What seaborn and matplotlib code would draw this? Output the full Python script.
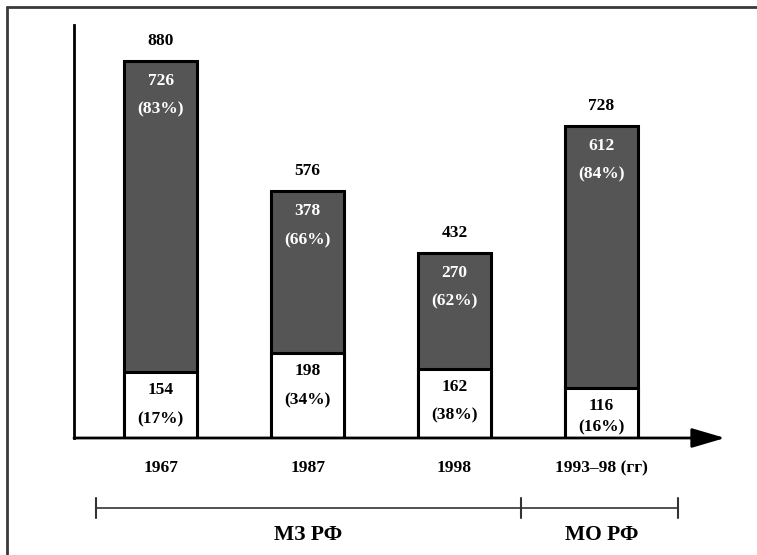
import numpy as np
import matplotlib
matplotlib.use("Agg")
import matplotlib.pyplot as plt
import matplotlib.transforms as mtransforms
from matplotlib.lines import Line2D
import seaborn as sns
import pandas as pd

# data
years = ["1967", "1987", "1998", "1993–98 (гг)"]
totals = [880, 576, 432, 728]
upper = [726, 378, 270, 612]
upper_pct = [83, 66, 62, 84]
lower = [154, 198, 162, 116]
lower_pct = [17, 34, 38, 16]
groups = ["МЗ РФ", "МО РФ"]
group_span = [(0, 2), (3, 3)]  # bar index range of each group

sns.set_theme(style="white")
plt.rcParams["font.family"] = ["Liberation Serif", "DejaVu Serif"]
plt.rcParams["font.weight"] = "bold"

df = pd.DataFrame({"year": years, "total": totals, "lower": lower})

fig = plt.figure(figsize=(7.57, 5.55), dpi=100)
ax = fig.add_axes([74 / 757, 1 - 438 / 555, (725 - 74) / 757, (438 - 25) / 555])

dark = "#555555"
sns.barplot(data=df, x="year", y="total", color=dark, edgecolor="black",
            linewidth=2.2, width=0.5, saturation=1, ax=ax)
sns.barplot(data=df, x="year", y="lower", color="white", edgecolor="black",
            linewidth=2.2, width=0.5, saturation=1, ax=ax)

ax.set_xlim(-0.59, 3.84)
ax.set_ylim(0, 963)
ax.set_xlabel("")
ax.set_ylabel("")
ax.set_yticks([])
ax.tick_params(axis="x", length=0, pad=16, labelsize=12.5, labelcolor="black")
for lab in ax.get_xticklabels():
    lab.set_fontweight("bold")
for s in ["top", "right", "bottom"]:
    ax.spines[s].set_visible(False)
ax.spines["left"].set_color("black")
ax.spines["left"].set_linewidth(2)

# x axis with arrow
ax.annotate("", xy=(1, 0), xytext=(0, 0), xycoords="axes fraction",
            arrowprops=dict(arrowstyle="-|>,head_length=1.7,head_width=0.5",
                            color="black", lw=2, shrinkA=0, shrinkB=0),
            annotation_clip=False)

fs = 12.5
px = 0.72  # points per pixel at 100 dpi
for i in range(len(years)):
    ax.annotate(str(totals[i]), (i, totals[i]), xytext=(0, 20 * px),
                textcoords="offset points", ha="center", va="center",
                fontsize=fs, fontweight="bold", color="black")
    ax.annotate(str(upper[i]), (i, totals[i]), xytext=(0, -20 * px),
                textcoords="offset points", ha="center", va="center",
                fontsize=fs, fontweight="bold", color="white")
    ax.annotate(f"({upper_pct[i]}%)", (i, totals[i]), xytext=(0, -49 * px),
                textcoords="offset points", ha="center", va="center",
                fontsize=fs, fontweight="bold", color="white")
    seg_px = ax.transData.transform((0, lower[i]))[1] - ax.transData.transform((0, 0))[1]
    gap = min(29, seg_px - 29)
    ax.annotate(str(lower[i]), (i, lower[i]), xytext=(0, -18 * px),
                textcoords="offset points", ha="center", va="center",
                fontsize=fs, fontweight="bold", color="black")
    ax.annotate(f"({lower_pct[i]}%)", (i, lower[i]), xytext=(0, -(18 + gap) * px),
                textcoords="offset points", ha="center", va="center",
                fontsize=fs, fontweight="bold", color="black")

# group bracket under the axis
trans = mtransforms.blended_transform_factory(ax.transData, ax.transAxes)
y_line = -0.1695
edges = [group_span[0][0] - 0.44, (group_span[0][1] + group_span[1][0]) / 2 - 0.05,
         group_span[1][1] + 0.52]
ax.plot([edges[0], edges[-1]], [y_line, y_line], color="#333333", lw=1.2,
        transform=trans, clip_on=False)
for e in edges:
    ax.plot([e, e], [y_line + 0.025, y_line - 0.025], color="#333333", lw=1.5,
            transform=trans, clip_on=False)
for g, (a, b) in zip(groups, group_span):
    xc = (a + b) / 2 if a != b else a
    ax.text(xc, -0.235, g, transform=trans, ha="center", va="center",
            fontsize=15.5, fontweight="bold", color="black")

# outer frame (left and top edges)
fig.add_artist(Line2D([7 / 757, 7 / 757], [0, 1 - 7 / 555], color="#3a3a3a", lw=2))
fig.add_artist(Line2D([7 / 757, 1], [1 - 7 / 555, 1 - 7 / 555], color="#3a3a3a", lw=2))

fig.savefig("out.png", dpi=100)
